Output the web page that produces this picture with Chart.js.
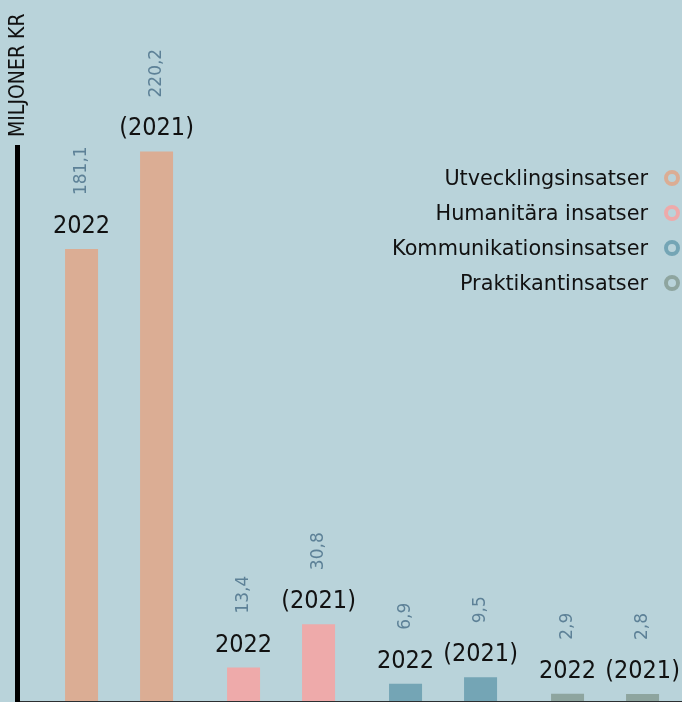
<!DOCTYPE html>
<html><head><meta charset="utf-8">
<script src="https://cdn.jsdelivr.net/npm/chart.js@4"></script>
<style>
html,body{margin:0;padding:0;background:#b9d3da;overflow:hidden}
#wrap{position:relative;width:682px;height:702px}
#legend{position:absolute;right:2px;top:160px;font:20.8px "DejaVu Sans";color:#111;text-align:right}
.row{height:35px;display:flex;justify-content:flex-end;align-items:center;white-space:nowrap}
.ring{display:inline-block;width:8px;height:8px;border:4px solid;border-radius:50%;margin-left:16px}
</style></head><body>
<div id="wrap"><canvas id="c" width="682" height="702"></canvas><div id="legend"></div></div>
<script>
const categories = ['Utvecklingsinsatser', 'Humanitära insatser', 'Kommunikationsinsatser', 'Praktikantinsatser'];
const yearLabels = ['2022', '(2021)'];
const values2022 = [181.1, 13.4, 6.9, 2.9];
const values2021 = [220.2, 30.8, 9.5, 2.8];
const colors = ['#dbad94', '#eeaaaa', '#74a5b5', '#8ea59f'];
const axisTitle = 'MILJONER KR';

const fmt = v => v.toFixed(1).replace('.', ',');

// legend
const leg = document.getElementById('legend');
categories.forEach((c, i) => {
  const r = document.createElement('div'); r.className = 'row';
  const t = document.createElement('span'); t.textContent = c;
  const s = document.createElement('span'); s.className = 'ring'; s.style.borderColor = colors[i];
  r.appendChild(t); r.appendChild(s); leg.appendChild(r);
});

const labelPlugin = {
  id: 'labels',
  afterDatasetsDraw(chart) {
    const ctx = chart.ctx;
    chart.data.datasets.forEach((ds, di) => {
      const meta = chart.getDatasetMeta(di);
      meta.data.forEach((bar, i) => {
        ctx.save();
        ctx.fillStyle = '#111';
        ctx.font = '25px "DejaVu Sans Condensed", "DejaVu Sans"';
        ctx.textAlign = 'center';
        ctx.textBaseline = 'alphabetic';
        ctx.fillText(yearLabels[di], bar.x, bar.y - 16);
        ctx.translate(bar.x, bar.y - 54);
        ctx.rotate(-Math.PI / 2);
        ctx.fillStyle = '#5d8197';
        ctx.font = '17px "DejaVu Sans"';
        ctx.textAlign = 'left';
        ctx.textBaseline = 'middle';
        ctx.fillText(fmt(ds.data[i].y), 0, 0);
        ctx.restore();
      });
    });
    const ca = chart.chartArea;
    ctx.save();
    ctx.translate(ca.left + 2, ca.top - 10);
    ctx.rotate(-Math.PI / 2);
    ctx.fillStyle = '#111';
    ctx.font = '21px "DejaVu Sans Condensed", "DejaVu Sans"';
    ctx.textAlign = 'left';
    ctx.textBaseline = 'middle';
    ctx.fillText(axisTitle, 0, 0);
    ctx.restore();
  }
};

new Chart(document.getElementById('c'), {
  type: 'bar',
  data: {
    datasets: [
      { label: yearLabels[0], data: values2022.map((v, i) => ({ x: i, y: v })), backgroundColor: colors },
      { label: yearLabels[1], data: values2021.map((v, i) => ({ x: i, y: v })), backgroundColor: colors }
    ]
  },
  options: {
    responsive: false,
    animation: false,
    categoryPercentage: 0.926,
    barPercentage: 0.44,
    layout: { padding: { top: 147, left: 17, right: 0, bottom: 1 } },
    plugins: { legend: { display: false }, tooltip: { enabled: false } },
    scales: {
      x: {
        type: 'linear',
        offset: false,
        min: -0.63, max: 3.475,
        afterBuildTicks: s => { s.ticks = categories.map((_, i) => ({ value: i })); },
        ticks: { display: false },
        grid: { display: false, drawTicks: false, offset: false },
        border: { display: true, color: '#2b2f31', width: 1 }
      },
      y: {
        min: 0, max: 222,
        ticks: { display: false },
        grid: { display: false, drawTicks: false },
        border: { display: true, color: '#000', width: 5 }
      }
    }
  },
  plugins: [labelPlugin]
});
</script>
</body></html>
